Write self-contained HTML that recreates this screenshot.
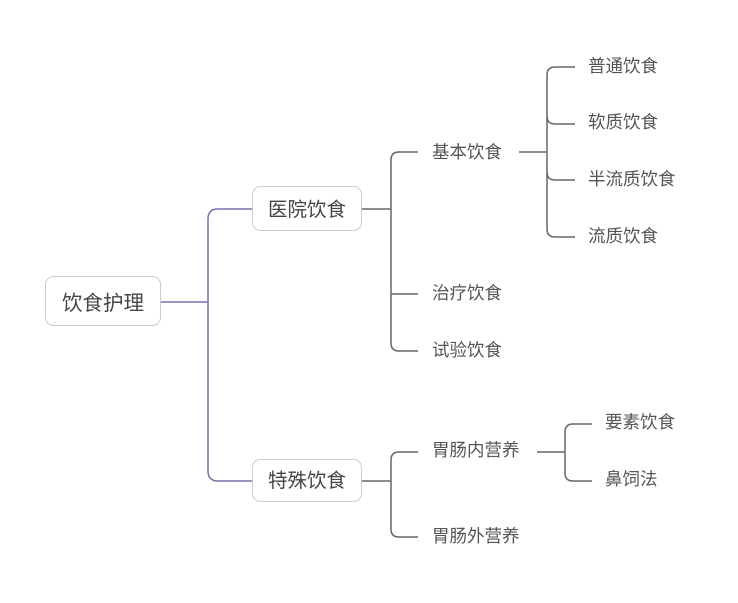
<!DOCTYPE html>
<html><head><meta charset="utf-8"><style>
html,body{margin:0;padding:0;background:#fff;}
svg{display:block;}
text{font-family:"Liberation Sans","Noto Sans CJK SC",sans-serif;fill:#555;}
</style></head><body>
<svg width="738" height="603" viewBox="0 0 738 603" xmlns="http://www.w3.org/2000/svg">
<g fill="none" stroke="#7a70a8" stroke-width="1.5">
<path d="M160 302 H208"/>
<path d="M252 209 H218 Q208 209 208 219 V471 Q208 481 218 481 H252"/>
</g>
<g fill="none" stroke="#666" stroke-width="1.5">
<path d="M361 209 H391"/>
<path d="M418 152 H399 Q391 152 391 160 V343 Q391 351 399 351 H418"/>
<path d="M391 294 Q391 294 399 294 H418"/>
<path d="M519 152 H547"/>
<path d="M575 67 H555 Q547 67 547 75 V229 Q547 237 555 237 H575"/>
<path d="M547 116 Q547 124 555 124 H575"/>
<path d="M547 172 Q547 180 555 180 H575"/>
<path d="M361 481 H391"/>
<path d="M418 452 H399 Q391 452 391 460 V529 Q391 537 399 537 H418"/>
<path d="M537 452 H565"/>
<path d="M592 424 H573 Q565 424 565 432 V473 Q565 481 573 481 H592"/>
</g>
<g fill="#fff" stroke="#ccc" stroke-width="1">
<rect x="45.5" y="276.5" width="115" height="49" rx="8"/>
<rect x="252.5" y="186.5" width="109" height="44" rx="8"/>
<rect x="252.5" y="459.5" width="109" height="42" rx="8"/>
</g>
<text x="103" y="310" font-size="20.5" text-anchor="middle" style="fill:#444">饮食护理</text>
<text x="307" y="216" font-size="19.5" text-anchor="middle" style="fill:#444">医院饮食</text>
<text x="307" y="487" font-size="19.5" text-anchor="middle" style="fill:#444">特殊饮食</text>
<g font-size="17.5">
<text x="432" y="158">基本饮食</text>
<text x="432" y="299">治疗饮食</text>
<text x="432" y="356">试验饮食</text>
<text x="588" y="72">普通饮食</text>
<text x="588" y="128">软质饮食</text>
<text x="588" y="185">半流质饮食</text>
<text x="588" y="242">流质饮食</text>
<text x="432" y="456">胃肠内营养</text>
<text x="432" y="542">胃肠外营养</text>
<text x="605" y="428">要素饮食</text>
<text x="605" y="485">鼻饲法</text>
</g>
</svg>
</body></html>
